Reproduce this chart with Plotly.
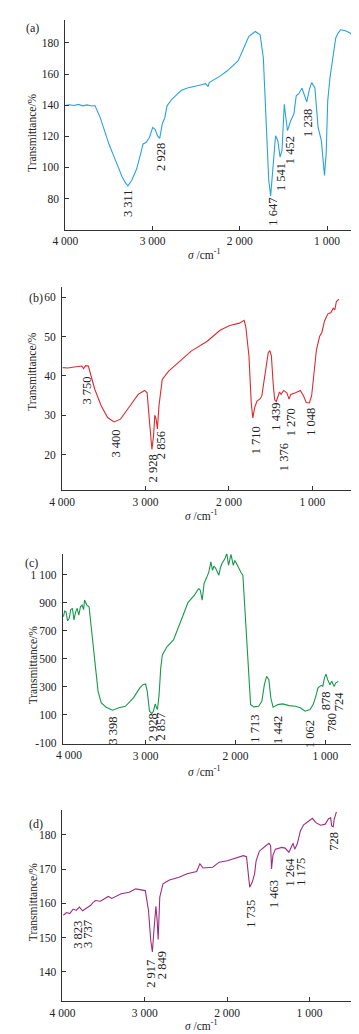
import plotly.graph_objects as go

# ---------------- data ----------------
a_wn = [3993, 3950, 3900, 3850, 3800, 3750, 3700, 3661, 3600, 3550, 3500, 3440, 3390, 3348, 3310, 3282, 3238, 3182, 3140, 3109,
        3072, 3035, 2998, 2969, 2944, 2918, 2889, 2859, 2834, 2779, 2720, 2668, 2600, 2521, 2450, 2392, 2363, 2350, 2300, 2228,
        2150, 2081, 2020, 1970, 1896, 1822, 1767, 1730, 1694, 1668, 1646, 1620, 1590, 1564, 1538, 1516, 1490, 1472, 1453, 1416,
        1380, 1353, 1324, 1287, 1258, 1232, 1202, 1176, 1139, 1121, 1102, 1065, 1040, 1029, 1010, 992, 966, 937, 900, 870,
        845, 790, 735, 679]
a_t = [140.0, 140.3, 139.8, 140.5, 139.6, 140.2, 139.5, 139.8, 132.0, 123.6, 115.0, 106.6, 99.0, 93.8, 90.0, 88.1, 91.7, 99.1, 108.0, 115.1,
       116.2, 119.4, 125.7, 124.3, 120.4, 118.7, 127.9, 132.1, 139.6, 143.8, 147.0, 149.6, 151.0, 152.3, 153.0, 153.8, 152.0, 154.5, 156.0, 158.7,
       161.8, 165.1, 168.5, 174.7, 184.3, 187.4, 185.3, 170.4, 127.9, 91.7, 81.7, 100.2, 120.4, 117.2, 106.6, 110.9, 140.6, 132.1, 123.6, 130.0,
       134.3, 146.0, 147.4, 150.9, 146.0, 142.1, 150.2, 154.5, 151.3, 140.6, 125.7, 117.2, 102.3, 94.9, 108.7, 142.8, 157.7, 170.4, 183.2, 186.5,
       188.5, 187.9, 186.4, 182.8]

b_wn = [3994, 3930, 3879, 3820, 3763, 3744, 3720, 3686, 3667, 3609, 3532, 3455, 3378, 3301, 3185, 3089, 3012, 2981, 2962, 2943,
        2924, 2904, 2889, 2873, 2858, 2839, 2800, 2723, 2607, 2453, 2261, 2107, 1991, 1875, 1818, 1799, 1760, 1733, 1714, 1691,
        1664, 1625, 1606, 1568, 1529, 1510, 1491, 1471, 1452, 1433, 1414, 1394, 1375, 1344, 1306, 1279, 1260, 1202, 1144, 1105,
        1074, 1036, 1009, 982, 951, 912, 885, 855, 816, 777, 750, 731, 712, 681]
b_t = [42.1, 42.0, 42.2, 42.3, 42.5, 41.8, 42.6, 42.5, 41.2, 36.6, 32.4, 29.4, 28.3, 29.0, 32.4, 35.3, 36.3, 35.7, 30.7, 24.8,
       21.3, 24.8, 30.0, 29.0, 26.5, 32.4, 39.1, 41.2, 43.3, 46.3, 48.8, 51.6, 52.8, 53.4, 54.1, 52.6, 45.0, 33.2, 29.3, 32.0,
       33.6, 34.2, 34.9, 40.8, 45.9, 46.4, 45.0, 38.3, 33.9, 33.5, 34.9, 35.9, 35.3, 36.3, 35.7, 34.1, 35.3, 35.7, 36.3, 34.9,
       33.2, 33.1, 34.9, 40.8, 46.7, 50.1, 51.1, 53.9, 55.7, 56.1, 57.2, 56.8, 58.9, 59.5]

c_wn = [3914, 3900, 3886, 3868, 3850, 3832, 3814, 3797, 3780, 3761, 3743, 3725, 3707, 3690, 3679, 3665, 3654, 3629, 3600, 3565,
        3529, 3493, 3439, 3368, 3297, 3225, 3136, 3064, 3029, 3000, 2982, 2957, 2932, 2914, 2893, 2879, 2868, 2850, 2832, 2814,
        2761, 2690, 2636, 2582, 2529, 2457, 2410, 2392, 2371, 2349, 2320, 2296, 2274, 2256, 2240, 2221, 2203, 2185, 2167, 2149,
        2120, 2096, 2078, 2050, 2025, 2008, 1990, 1972, 1936, 1918, 1900, 1882, 1857, 1832, 1796,
        1743, 1707, 1679, 1654, 1629, 1607, 1582, 1529, 1475, 1404, 1332, 1279, 1225, 1171, 1136, 1107, 1082, 1046, 1029, 1011,
        993, 975, 950, 929, 904, 886, 857]
c_t = [799, 840, 835, 770, 788, 850, 859, 776, 830, 859, 811, 870, 882, 850, 918, 895, 882, 870, 693, 480,
       267, 184, 153, 132, 149, 160, 220, 291, 314, 319, 267, 125, 108, 125, 177, 149, 137, 243, 433, 527,
       586, 634, 717, 811, 900, 953, 1000, 988, 917, 1038, 1080, 1119, 1190, 1130, 1160, 1145, 1120, 1095, 1150, 1180,
       1210, 1250, 1166, 1244, 1166, 1200, 1180, 1154, 1111, 1095, 917, 719, 456, 172, 156,
       160, 196, 314, 373, 350, 220, 153, 172, 177, 165, 160, 149, 125, 137, 172, 231, 291, 309, 302, 361,
       390, 350, 314, 338, 302, 326, 338]

d_wn = [3989, 3950, 3911, 3870, 3833, 3794, 3755, 3716, 3657, 3630, 3599, 3540, 3482, 3443, 3400, 3365, 3287, 3189, 3111, 2994,
        2955, 2928, 2908, 2889, 2865, 2850, 2838, 2818, 2779, 2701, 2584, 2487, 2370, 2331, 2292, 2175, 2097, 1999, 1902, 1804,
        1765, 1745, 1726, 1695, 1667, 1648, 1609, 1531, 1492, 1472, 1461, 1445, 1414, 1336, 1297, 1250, 1219, 1199, 1180, 1149,
        1110, 1071, 1004, 965, 926, 868, 809, 770, 743, 731, 712, 700, 673]
d_t = [156.5, 157.3, 157.0, 158.3, 157.9, 158.9, 157.8, 158.4, 159.4, 160.2, 160.8, 160.6, 161.3, 162.0, 161.4, 161.8, 162.8, 163.2, 164.2, 163.7,
       157.9, 149.2, 145.8, 152.1, 159.1, 155.0, 149.4, 161.8, 165.7, 166.8, 167.6, 168.6, 169.3, 171.5, 170.3, 170.5, 172.0, 172.4, 173.1, 173.9,
       173.6, 169.5, 164.7, 166.2, 168.6, 172.4, 175.2, 176.8, 177.5, 176.8, 170.0, 173.9, 175.8, 176.3, 176.1, 174.9, 176.8, 177.5, 175.8, 177.3,
       181.2, 182.9, 184.1, 184.8, 183.6, 182.8, 183.1, 184.6, 185.0, 182.6, 182.3, 184.6, 186.7]

# peak labels (text, x, y in data units)
a_lbl = ["3 311", "2 928", "1 647", "1 541", "1 452", "1 238"]
a_lx = [3275, 2906, 1620, 1527, 1416, 1213]
a_ly = [76.8, 106.6, 71.5, 93.8, 110.9, 128.9]

b_lbl = ["3 750", "3 400", "2 928", "2 856", "1 710", "1 439", "1 376", "1 270", "1 048"]
b_lx = [3705, 3358, 2914, 2818, 1681, 1437, 1341, 1256, 1025]
b_ly = [36.2, 22.7, 16.4, 22.3, 23.5, 29.6, 19.3, 28.2, 28.4]

c_lbl = ["3 398", "2 928", "2 857", "1 713", "1 442", "1 062", "878", "780", "724"]
c_lx = [3367, 2921, 2825, 1784, 1529, 1179, 993, 929, 850]
c_ly = [-17, 7, 18, 0, -10, -36, 196, 49, 196]

d_lbl = ["3 823", "3 737", "2 917", "2 849", "1 735", "1 463", "1 264", "1 175", "728"]
d_lx = [3807, 3682, 2921, 2792, 1719, 1438, 1231, 1106, 696]
d_ly = [150.9, 150.9, 139.5, 141.9, 157.0, 162.8, 169.1, 169.1, 178.1]

x_ticks = [4000, 3000, 2000, 1000]
x_ticktext = ["4 000", "3 000", "2 000", "1 000"]
a_yticks = [80, 100, 120, 140, 160, 180]
b_yticks = [20, 30, 40, 50, 60]
c_yticks = [-100, 100, 300, 500, 700, 900, 1100]
c_yticktext = ["-100", "100", "300", "500", "700", "900", "1 100"]
d_yticks = [140, 150, 160, 170, 180]

# ---------------- layout helpers ----------------
W, H = 359, 1034
FONT = "Liberation Serif, Times New Roman, serif"
TXT = "#222222"
AXC = "#333333"


def px(x):
    return x / W


def py(y):
    return 1 - y / H


panels = [
    dict(wn=a_wn, t=a_t, color="#2aa2da", xd=(46, 350), yd=(11.7, 222.7), xr=(4000, 641), yr=(60, 195),
         yt=a_yticks, ytt=[str(v) for v in a_yticks], lbl=(a_lbl, a_lx, a_ly), tag="(a)", tagpos=(12, 20),
         ytitle=(12, 125), xtitle=(190, 247)),
    dict(wn=b_wn, t=b_t, color="#dc2a30", xd=(42.7, 349.3), yd=(280.7, 484.3), xr=(4000, 457), yr=(11, 62.5),
         yt=b_yticks, ytt=[str(v) for v in b_yticks], lbl=(b_lbl, b_lx, b_ly), tag="(b)", tagpos=(16, 291),
         ytitle=(12, 365), xtitle=(187, 509)),
    dict(wn=c_wn, t=c_t, color="#17994c", xd=(43.3, 348.3), yd=(548.3, 739.3), xr=(3922, 652), yr=(-107, 1249),
         yt=c_yticks, ytt=c_yticktext, lbl=(c_lbl, c_lx, c_ly), tag="(c)", tagpos=(11, 558),
         ytitle=(12, 660), xtitle=(190, 767)),
    dict(wn=d_wn, t=d_t, color="#9e2d7c", xd=(43, 348.3), yd=(806, 997.7), xr=(4000, 427), yr=(131.5, 187.2),
         yt=d_yticks, ytt=[str(v) for v in d_yticks], lbl=(d_lbl, d_lx, d_ly), tag="(d)", tagpos=(16, 820),
         ytitle=(12, 898), xtitle=(187, 1022)),
]

fig = go.Figure()
annotations = []
layout = {}

for i, p in enumerate(panels, start=1):
    xa = "x" if i == 1 else f"x{i}"
    ya = "y" if i == 1 else f"y{i}"
    fig.add_trace(go.Scatter(x=p["wn"], y=p["t"], mode="lines", xaxis=xa, yaxis=ya,
                             line=dict(color=p["color"], width=1.1), showlegend=False, hoverinfo="skip"))
    axis_common = dict(showgrid=False, zeroline=False, showline=True, linecolor=AXC, linewidth=1,
                       ticks="inside", ticklen=4, tickcolor=AXC, tickwidth=1,
                       tickfont=dict(family=FONT, size=11.5, color=TXT))
    xkey = "xaxis" if i == 1 else f"xaxis{i}"
    ykey = "yaxis" if i == 1 else f"yaxis{i}"
    layout[xkey] = dict(axis_common, domain=[px(p["xd"][0]), px(p["xd"][1])], range=list(p["xr"]),
                        tickvals=x_ticks, ticktext=x_ticktext, anchor=ya, ticklabelstandoff=1)
    layout[ykey] = dict(axis_common, domain=[py(p["yd"][1]), py(p["yd"][0])], range=list(p["yr"]),
                        tickvals=p["yt"], ticktext=p["ytt"], anchor=xa, ticklabelstandoff=3)
    texts, lx, ly = p["lbl"]
    for s, xx, yy in zip(texts, lx, ly):
        annotations.append(dict(text=s, x=xx, y=yy, xref=xa, yref=ya, showarrow=False, textangle=-90,
                                xanchor="center", yanchor="middle",
                                font=dict(family=FONT, size=12.5, color=TXT)))
    annotations.append(dict(text=p["tag"], x=px(p["tagpos"][0]), y=py(p["tagpos"][1]), xref="paper", yref="paper",
                            showarrow=False, xanchor="center", yanchor="middle",
                            font=dict(family=FONT, size=12, color=TXT)))
    annotations.append(dict(text="Transmittance/%", x=px(p["ytitle"][0]), y=py(p["ytitle"][1]), xref="paper",
                            yref="paper", showarrow=False, textangle=-90, xanchor="center", yanchor="middle",
                            font=dict(family=FONT, size=11.5, color=TXT)))
    annotations.append(dict(text="<i>σ</i> /cm<sup>-1</sup>", x=px(p["xtitle"][0]), y=py(p["xtitle"][1]),
                            xref="paper", yref="paper", showarrow=False, xanchor="center", yanchor="middle",
                            font=dict(family=FONT, size=11.5, color=TXT)))

# panel (c): the "4 000" label sits just right of the axis corner
annotations.append(dict(text="4 000", x=px(50), y=py(751), xref="paper", yref="paper", showarrow=False,
                        xanchor="center", yanchor="middle", font=dict(family=FONT, size=11.5, color=TXT)))

fig.update_layout(width=W, height=H, margin=dict(l=0, r=0, t=0, b=0), paper_bgcolor="white",
                  plot_bgcolor="white", annotations=annotations, **layout)

fig.write_html("out.html")
